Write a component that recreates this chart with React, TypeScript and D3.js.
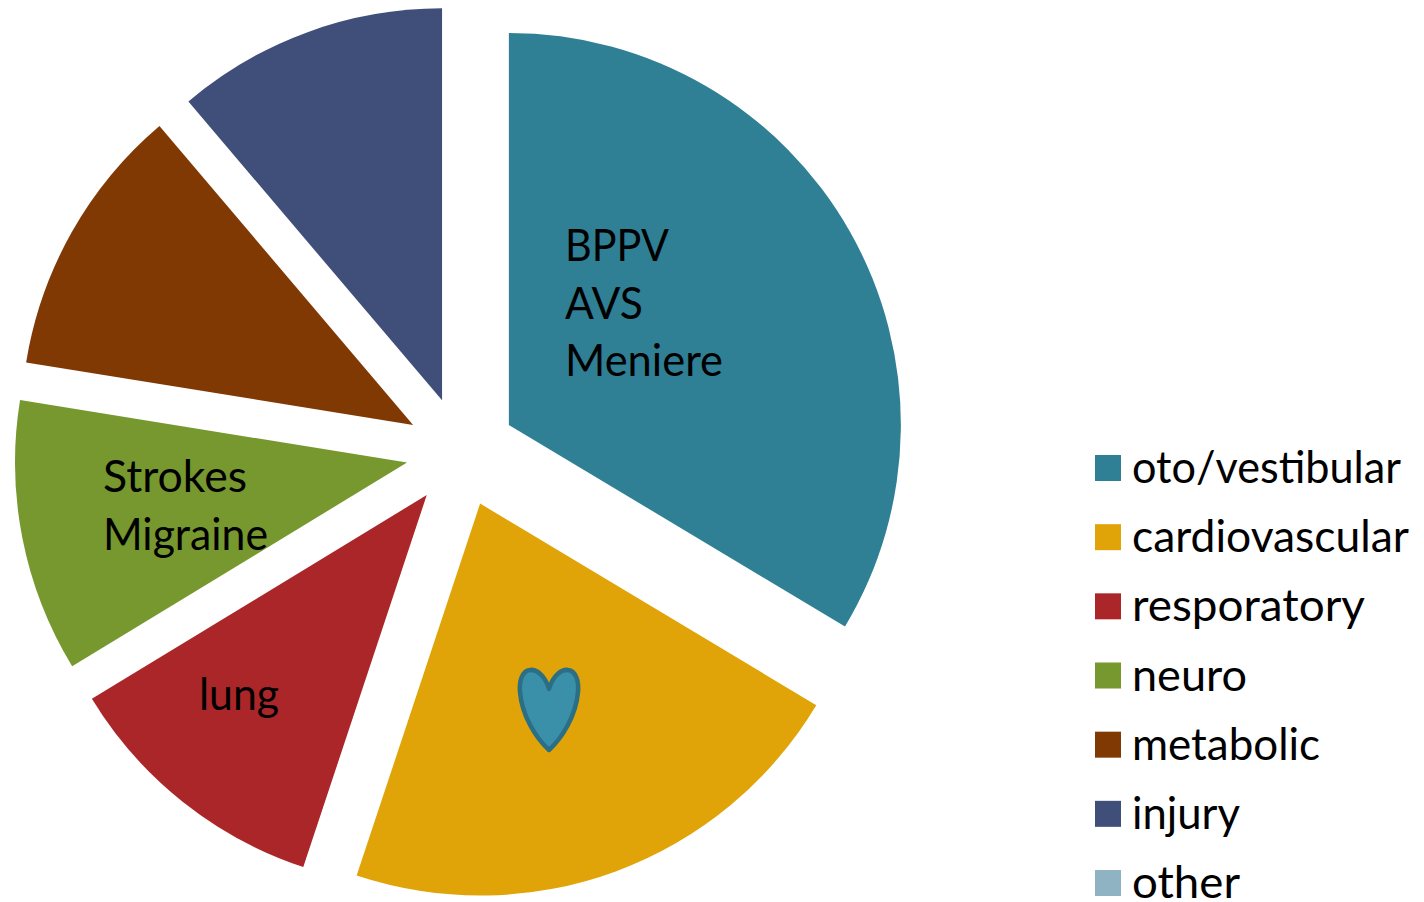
import React from "react";
import * as d3 from "d3";

const categories = ["oto/vestibular", "cardiovascular", "resporatory", "neuro", "metabolic", "injury", "other"];
const shares = [33.6, 21.5, 11.2, 11.25, 11.25, 11.2, 0];
const colors = ["#2F7F95", "#E0A408", "#AB2628", "#76982E", "#813904", "#3F4F7A", "#8FB3C2"];

const sliceNotes = [["BPPV", "AVS", "Meniere"], [], ["lung"], ["Strokes", "Migraine"], [], [], []];

const width = 1424;
const height = 902;
const cx = 461;
const cy = 452;
const radius = 392;
const explode = 55;
const font = "Lato, 'Noto Sans', sans-serif";
const fontSize = 45;
const lineGap = 57.5;

// layout only: where each note starts, and text widths so Lato fills the same room
const noteAnchors = [
  [565, 261],
  [0, 0],
  [199, 710],
  [103, 492],
  [0, 0],
  [0, 0],
  [0, 0],
];
const noteWidths: Record<string, number> = {
  BPPV: 104,
  AVS: 78,
  Meniere: 158,
  lung: 80,
  Strokes: 144,
  Migraine: 165,
};
const legendWidths = [269, 277, 233, 115, 188, 108, 108];

const pie = d3
  .pie<number>()
  .sort(null)
  .startAngle(0)
  .endAngle(2 * Math.PI);

const arc = d3.arc<d3.PieArcDatum<number>>().innerRadius(0).outerRadius(radius);

const legendY = d3
  .scalePoint<string>()
  .domain(categories)
  .range([468, 883]);

// little heart on the cardiovascular slice
const heartPath = () => {
  const p = d3.path();
  p.moveTo(549, 689);
  p.bezierCurveTo(545, 675, 536, 669, 530, 670);
  p.bezierCurveTo(522, 671, 519, 681, 520, 692);
  p.bezierCurveTo(522, 716, 536, 738, 549, 750);
  p.bezierCurveTo(562, 738, 576, 716, 578, 692);
  p.bezierCurveTo(579, 681, 576, 671, 568, 670);
  p.bezierCurveTo(562, 669, 553, 675, 549, 689);
  p.closePath();
  return p.toString();
};

export default function App() {
  const arcs = pie(shares);

  return (
    <svg
      width={width}
      height={height}
      style={{ position: "absolute", left: 0, top: 0, display: "block", background: "#fff" }}
    >
      <g transform={`translate(${cx},${cy})`}>
        {arcs.map((d, i) => {
          if (d.value === 0) return null;
          const mid = (d.startAngle + d.endAngle) / 2;
          const dx = Math.sin(mid) * explode;
          const dy = -Math.cos(mid) * explode;
          return <path key={categories[i]} d={arc(d) || ""} fill={colors[i]} transform={`translate(${dx},${dy})`} />;
        })}
      </g>

      <path d={heartPath()} fill="#3A8FA9" stroke="#2A6F85" strokeWidth={4.5} strokeLinejoin="round" />

      {sliceNotes.map((lines, i) =>
        lines.map((line, j) => (
          <text
            key={line}
            x={noteAnchors[i][0]}
            y={noteAnchors[i][1] + j * lineGap}
            fontFamily={font}
            fontSize={fontSize}
            fill="#000"
            textLength={noteWidths[line]}
            lengthAdjust="spacingAndGlyphs"
          >
            {line}
          </text>
        ))
      )}

      {categories.map((c, i) => {
        const y = legendY(c) as number;
        return (
          <g key={c}>
            <rect x={1095} y={y - 13} width={26} height={26} fill={colors[i]} />
            <text
              x={1132}
              y={y + 15}
              fontFamily={font}
              fontSize={fontSize}
              fill="#000"
              textLength={legendWidths[i]}
              lengthAdjust="spacingAndGlyphs"
            >
              {c}
            </text>
          </g>
        );
      })}
    </svg>
  );
}
